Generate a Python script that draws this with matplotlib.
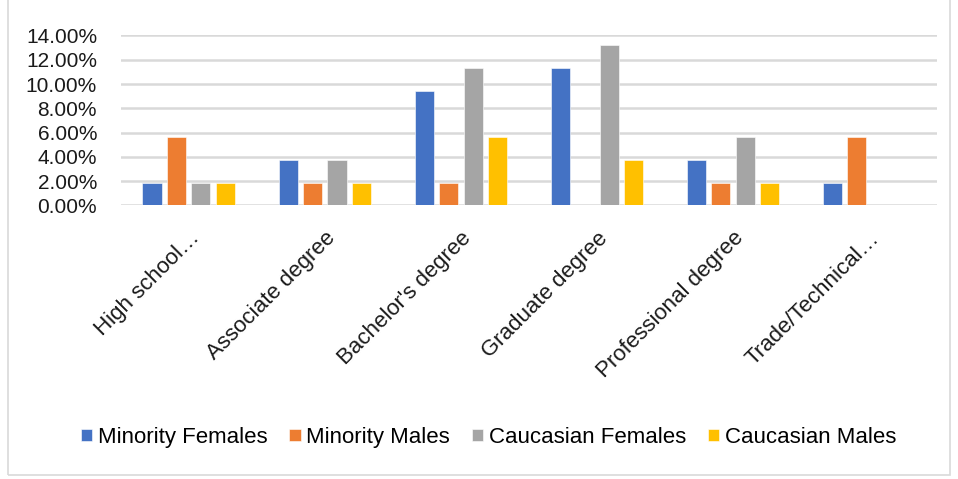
import matplotlib
matplotlib.use('Agg')
import matplotlib.pyplot as plt
from matplotlib.patches import Rectangle
from matplotlib.ticker import FuncFormatter, MultipleLocator
import numpy as np

# Share of respondents by highest degree
categories = ["High school\u2026", "Associate degree", "Bachelor's degree",
              "Graduate degree", "Professional degree", "Trade/Technical\u2026"]
minority_females = [1.89, 3.77, 9.43, 11.32, 3.77, 1.89]
minority_males = [5.66, 1.89, 1.89, 0.0, 1.89, 5.66]
caucasian_females = [1.89, 3.77, 11.32, 13.21, 5.66, 0.0]
caucasian_males = [1.89, 1.89, 5.66, 3.77, 1.89, 0.0]

series = [
    ("Minority Females", minority_females, "#4472C4"),
    ("Minority Males", minority_males, "#ED7D31"),
    ("Caucasian Females", caucasian_females, "#A5A5A5"),
    ("Caucasian Males", caucasian_males, "#FFC000"),
]

plt.rcParams['font.family'] = ['Liberation Sans', 'DejaVu Sans']

fig = plt.figure(figsize=(9.58, 4.79), dpi=100)
ax = fig.add_axes([0.126, 0.571, 0.852, 0.355])

x = np.arange(len(categories))
step = 0.18
width = 0.14
for i, (name, vals, color) in enumerate(series):
    ax.bar(x + (i - 1.5) * step, vals, width, color=color, label=name,
           edgecolor='white', linewidth=0.4, zorder=3)

ax.set_xlim(-0.5, len(categories) - 0.5)
ax.set_ylim(0, 14)
ax.yaxis.set_major_locator(MultipleLocator(2))
ax.yaxis.set_major_formatter(FuncFormatter(lambda v, p: f"{v:.2f}%"))
ax.grid(axis='y', color='#d9d9d9', linewidth=1.8, zorder=0)
for s in ax.spines.values():
    s.set_visible(False)
ax.tick_params(axis='both', length=0, labelsize=15, colors='#1a1a1a')
ax.tick_params(axis='y', pad=17)
ax.set_xticks(x)
ax.set_xticklabels(categories, rotation=45, ha='right', rotation_mode='anchor',
                   fontsize=16)
ax.tick_params(axis='x', pad=16)

fig.legend(loc='center', bbox_to_anchor=(0.51, 0.087), ncol=4, frameon=False,
           fontsize=16, handlelength=0.5, handleheight=0.5, handletextpad=0.25,
           columnspacing=1.0)

# light frame around the chart
fig.patches.append(Rectangle((0.008, 0.008), 0.984, 1.1, transform=fig.transFigure,
                             fill=False, edgecolor='#d9d9d9', linewidth=1.2))

plt.savefig('out.png', dpi=100)
plt.close('all')
